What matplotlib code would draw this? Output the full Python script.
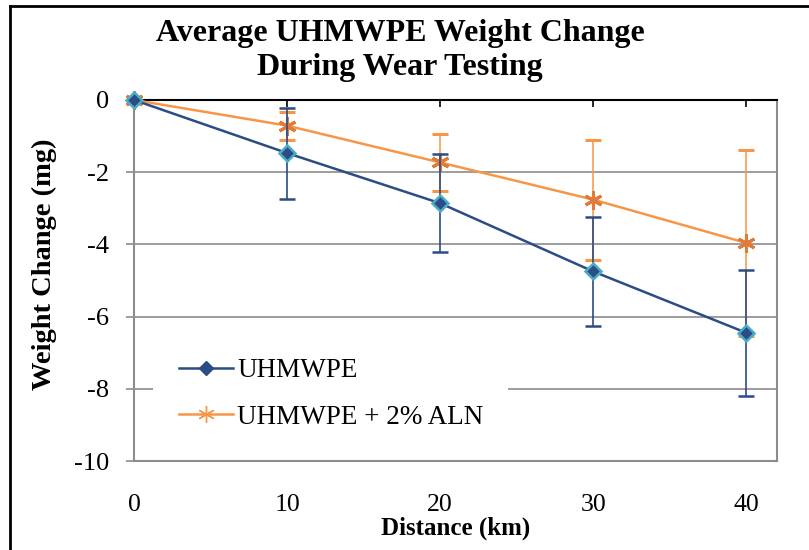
import numpy as np
import matplotlib
matplotlib.use("Agg")
import matplotlib.pyplot as plt
from matplotlib.lines import Line2D
from matplotlib.patches import Rectangle

plt.rcParams['font.family'] = ['Liberation Serif', 'DejaVu Serif']
plt.rcParams['axes.unicode_minus'] = False

distance = [0, 10, 20, 30, 40]
uhmwpe = [0, -1.47, -2.86, -4.75, -6.45]
uhmwpe_err = [0, 1.26, 1.36, 1.50, 1.74]
aln = [0, -0.71, -1.73, -2.76, -3.96]
aln_err = [0, 0.39, 0.78, 1.66, 2.58]
labels = ["UHMWPE", "UHMWPE + 2% ALN"]

blue = "#2B4C84"
blue_edge = "#4BACC6"
orange = "#F79646"
orange_dark = "#E07B39"
grey = "#8C8C8C"

fig = plt.figure(figsize=(8.09, 5.5), dpi=100)
ax = fig.add_axes([134 / 809, 1 - 461 / 550, 643 / 809, 361 / 550])

ax.errorbar(distance, uhmwpe, yerr=uhmwpe_err, color=blue, lw=1.8,
            marker='D', ms=8, mfc=blue, mec=blue_edge, mew=1.8,
            ecolor=blue, elinewidth=1.2, capsize=6, capthick=1.2, zorder=4,
            clip_on=False)
ax.errorbar(distance, aln, yerr=aln_err, color=orange, lw=1.8,
            marker=(6, 2, 0), ms=13, mec=orange_dark, mew=2.2,
            ecolor=orange, elinewidth=1.1, capsize=6, capthick=1.1, zorder=3,
            clip_on=False)

ax.set_xlim(0, 42)
ax.set_ylim(-10, 0)
ax.set_xticks([0, 10, 20, 30, 40])
ax.set_yticks([0, -2, -4, -6, -8, -10])
ax.yaxis.grid(True, color=grey, lw=1.2)
ax.set_axisbelow(True)

for s in ['left', 'right', 'bottom']:
    ax.spines[s].set_color(grey)
    ax.spines[s].set_linewidth(1.5)
ax.spines['top'].set_color('black')
ax.spines['top'].set_linewidth(1.5)

ax.tick_params(axis='x', bottom=False, top=True, direction='in', length=5,
               width=1.2, labelsize=18.5, pad=24, color='black')
ax.tick_params(axis='y', direction='out', length=6, width=1.2, color=grey,
               labelsize=19, pad=12)

ax.set_xlabel("Distance (km)", fontsize=18, fontweight='bold', labelpad=0)
ax.set_ylabel("Weight Change (mg)", fontsize=20.5, fontweight='bold')
ax.yaxis.set_label_coords(-0.12, 0.546)
fig.text(400 / 809, 1 - 33 / 550, "Average UHMWPE Weight Change",
         fontsize=23, fontweight='bold', ha='center', va='center')
fig.text(400 / 809, 1 - 68 / 550, "During Wear Testing",
         fontsize=23, fontweight='bold', ha='center', va='center')

# white area behind the legend, hiding the -8 gridline
ax.add_patch(Rectangle((19 / 643, 0.058), 355 / 643, 0.263, transform=ax.transAxes,
                       facecolor='white', edgecolor='none', zorder=1))

handles = [
    Line2D([], [], color=blue, lw=1.8, marker='D', ms=7, mfc=blue, mec=blue),
    Line2D([], [], color=orange, lw=1.8, marker=(6, 2, 0), ms=12, mec=orange, mew=1),
]
leg = ax.legend(handles, labels, loc='center left', bbox_to_anchor=(45 / 643, 0.1855),
                fontsize=19.5, frameon=False, handlelength=2.0, handletextpad=0.15,
                labelspacing=0.78, borderpad=0, borderaxespad=0)

fig.add_artist(Line2D([10 / 809, 10 / 809], [0, 1 - 6 / 550], color='black', lw=2))
fig.add_artist(Line2D([10 / 809, 1], [1 - 6 / 550, 1 - 6 / 550], color='black', lw=2))

fig.savefig("out.png", dpi=100)
